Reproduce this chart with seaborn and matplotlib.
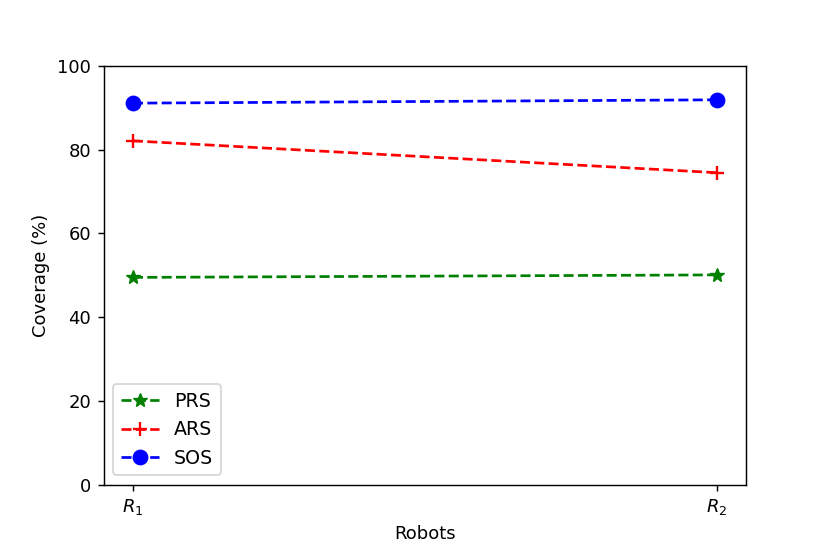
import matplotlib
matplotlib.use('Agg')
import matplotlib.pyplot as plt
import pandas as pd
import seaborn as sns

# Data
robots = ['$R_1$', '$R_2$']
prs = [49.5, 50.1]
ars = [82.1, 74.5]
sos = [91.1, 91.9]

df = pd.DataFrame({'pos': [0, 1], 'PRS': prs, 'ARS': ars, 'SOS': sos})

fig, ax = plt.subplots(figsize=(6.385, 4.262), dpi=130)
fig.subplots_adjust(left=0.125, right=0.899, top=0.881, bottom=0.125)

sns.lineplot(data=df, x='pos', y='PRS', ax=ax, color='green', marker='*',
             linestyle='--', markersize=8, markeredgecolor='green', label='PRS')
sns.lineplot(data=df, x='pos', y='ARS', ax=ax, color='red', marker='+',
             linestyle='--', markersize=7.5, markeredgewidth=1.3,
             markeredgecolor='red', label='ARS')
sns.lineplot(data=df, x='pos', y='SOS', ax=ax, color='blue', marker='o',
             linestyle='--', markersize=8, markeredgecolor='blue', label='SOS')

ax.set_ylim(0, 100)
ax.set_xticks([0, 1])
ax.set_xticklabels(robots)
ax.set_xlabel('Robots')
ax.set_ylabel('Coverage (%)')
ax.legend(loc='lower left', fontsize=10.5)

fig.savefig('out.png', dpi=130)
